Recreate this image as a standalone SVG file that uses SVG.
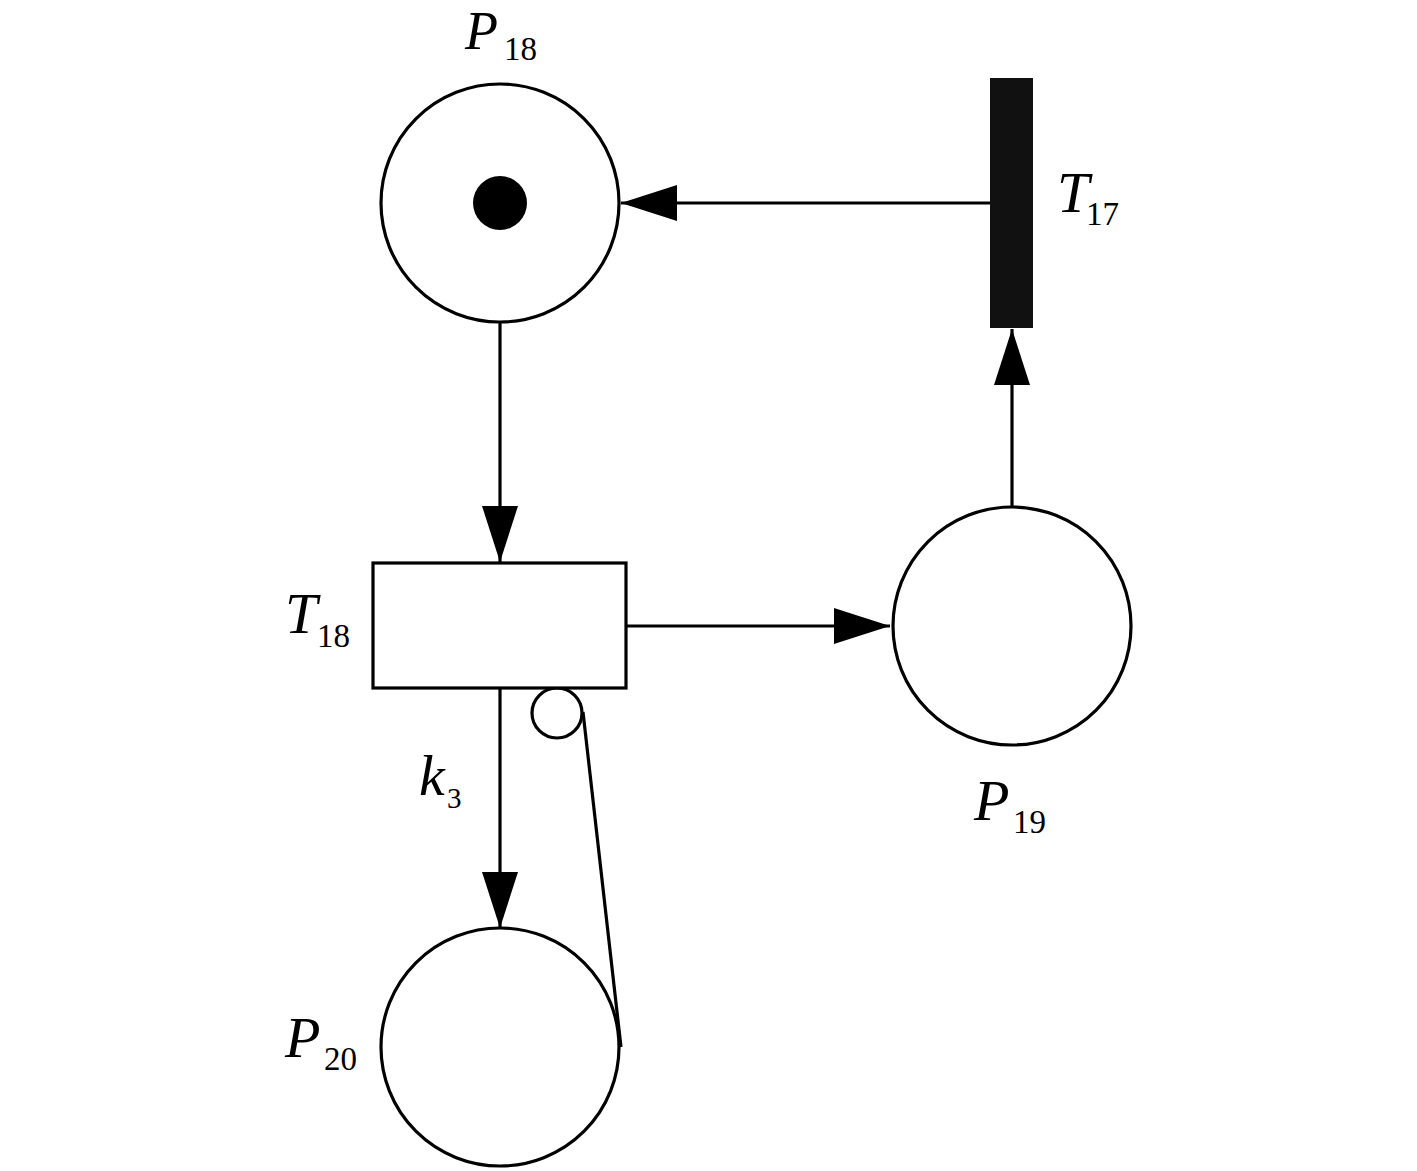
<svg xmlns="http://www.w3.org/2000/svg" width="1417" height="1171" viewBox="0 0 1417 1171">
<style>
.place{fill:#fff;stroke:#000;stroke-width:3.2}
.arc{fill:none;stroke:#000;stroke-width:3.2}
.lbl{font-family:"Liberation Serif","Times New Roman",serif;font-style:italic;font-size:58px;fill:#000}
.sub{font-family:"Liberation Serif","Times New Roman",serif;font-size:33px;fill:#000}
</style>
<defs>
<marker id="ah" viewBox="0 0 56 36" refX="56" refY="18" markerWidth="56" markerHeight="36" markerUnits="userSpaceOnUse" orient="auto">
<path d="M0,0 L56,18 L0,36 Z" fill="#000"/>
</marker>
</defs>
<rect width="1417" height="1171" fill="#fff"/>
<g id="connectors">
<line class="arc" x1="990" y1="203" x2="621" y2="203" marker-end="url(#ah)"/>
<line class="arc" x1="1012" y1="507" x2="1012" y2="329" marker-end="url(#ah)"/>
<line class="arc" x1="500" y1="322" x2="500" y2="562" marker-end="url(#ah)"/>
<line class="arc" x1="626" y1="626" x2="890" y2="626" marker-end="url(#ah)"/>
<line class="arc" x1="500" y1="688" x2="500" y2="928" marker-end="url(#ah)"/>
<line class="arc" x1="583" y1="712" x2="621" y2="1047"/>
<circle class="place" cx="557" cy="713" r="25"/>
</g>
<g id="P18">
<circle class="place" cx="500" cy="203" r="119"/>
<circle cx="500" cy="203" r="27" fill="#000"/>
<text class="lbl" x="465" y="49" style="font-size:54px">P</text><text class="sub" x="504" y="60">18</text>
</g>
<g id="T17">
<rect x="990" y="78" width="43" height="250" fill="#111"/>
<text class="lbl" x="1057" y="212">T</text><text class="sub" x="1086" y="225">17</text>
</g>
<g id="T18">
<rect x="373" y="563" width="253" height="125" fill="#fff" stroke="#000" stroke-width="3.2"/>
<text class="lbl" x="285" y="633">T</text><text class="sub" x="317" y="647">18</text>
</g>
<g id="P19">
<circle class="place" cx="1012" cy="626" r="119"/>
<text class="lbl" x="974" y="820">P</text><text class="sub" x="1013" y="833">19</text>
</g>
<g id="P20">
<circle class="place" cx="500" cy="1047" r="119"/>
<text class="lbl" x="285" y="1057">P</text><text class="sub" x="324" y="1070">20</text>
</g>
<g id="k3label">
<text class="lbl" x="419" y="795">k</text><text class="sub" x="447" y="808" style="font-size:29px">3</text>
</g>
</svg>
